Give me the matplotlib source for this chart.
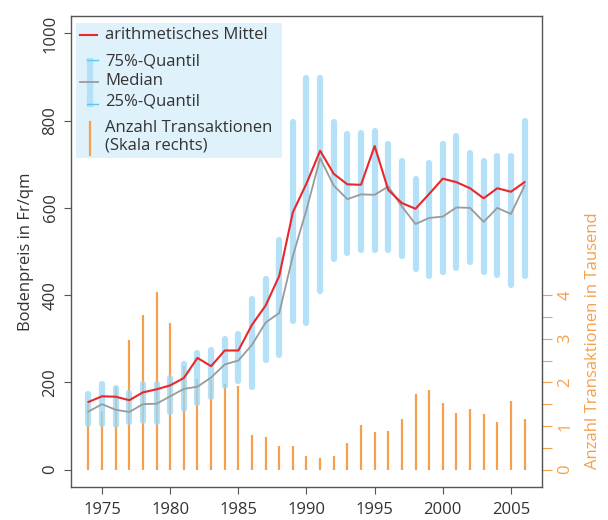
import matplotlib
matplotlib.use("Agg")
import matplotlib.pyplot as plt
from matplotlib.lines import Line2D
from matplotlib.patches import Rectangle
import numpy as np

plt.rcParams['font.family'] = ['Open Sans', 'DejaVu Sans']

years = list(range(1974, 2007))
# Bodenpreis Fr/qm
mittel = [155, 168, 167, 159, 177, 184, 193, 210, 256, 237, 273, 273, 332, 376, 444,
          590, 656, 731, 678, 654, 653, 742, 641, 611, 598, 632, 667, 659, 645, 622,
          645, 637, 659]
median = [133, 150, 137, 132, 150, 151, 168, 185, 190, 211, 241, 250, 286, 337, 359,
          490, 596, 714, 651, 620, 631, 630, 649, 603, 563, 577, 580, 601, 600, 568,
          600, 586, 651]
q75 = [174, 197, 187, 176, 197, 197, 210, 243, 268, 274, 299, 310, 391, 438, 527,
       797, 897, 897, 797, 770, 772, 776, 747, 707, 667, 704, 747, 764, 727, 708,
       718, 720, 799]
q25 = [104, 104, 103, 108, 112, 108, 133, 140, 153, 167, 192, 202, 190, 252, 263,
       341, 336, 410, 483, 496, 503, 503, 503, 489, 461, 443, 452, 463, 477, 452,
       446, 423, 443]
# Anzahl Transaktionen in Tausend
anzahl = [1.5, 1.34, 1.89, 2.96, 3.54, 4.07, 3.35, 2.37, 2.08, 2.05, 1.97, 1.91, 0.80,
          0.75, 0.55, 0.55, 0.32, 0.27, 0.32, 0.61, 1.02, 0.85, 0.88, 1.16, 1.73, 1.82,
          1.52, 1.29, 1.40, 1.28, 1.10, 1.58, 1.15]

c_red = '#e8282b'
c_gray = '#9a9a9a'
c_blue = '#9cd8f6'
c_orange = '#f5a04e'
c_text = '#333333'
c_box = '#555555'

fig = plt.figure(figsize=(6.08, 5.2), dpi=100)
ax = fig.add_axes([71 / 608, 1 - 487 / 520, 471 / 608, 471 / 520])
ax2 = ax.twinx()
ax.set_zorder(ax2.get_zorder() + 1)
ax.patch.set_visible(False)

# orange bars (right scale)
ax2.vlines(years, 0, anzahl, color=c_orange, lw=1.6)

# quartile bars
ax.vlines(years, q25, q75, color=c_blue, lw=4.5, alpha=0.75, capstyle='round')
ax.plot(years, median, color=c_gray, lw=1.3)
ax.plot(years, mittel, color=c_red, lw=1.5)

ax.set_xlim(1972.72, 2007.28)
ax.set_ylim(-40, 1040)
ax2.set_ylim(-0.40, 10.40)

for s in ax.spines.values():
    s.set_color(c_box)
    s.set_linewidth(1.0)

ax.set_xticks(range(1975, 2006, 5))
ax.set_yticks(range(0, 1001, 200))
ax.tick_params(axis='both', colors=c_box, labelcolor=c_text, labelsize=12,
               length=5, width=0.8)
ax.tick_params(axis='x', pad=6)
ax.tick_params(axis='y', labelrotation=90, pad=4)
for lab in ax.get_yticklabels():
    lab.set_va('center')
ax.set_ylabel('Bodenpreis in Fr/qm', fontsize=12, color=c_text, labelpad=6)

for name, s in ax2.spines.items():
    s.set_visible(name == 'right')
ax2.spines['right'].set_color(c_orange)
ax2.spines['right'].set_bounds(0, 4)
ax2.set_yticks(range(0, 5))
ax2.set_yticks(np.arange(0.5, 4, 1.0), minor=True)
ax2.tick_params(axis='y', which='both', colors=c_orange, length=7, width=0.8,
                labelsize=12, labelrotation=90, pad=4)
for lab in ax2.get_yticklabels():
    lab.set_va('center')
ax2.set_ylabel('Anzahl Transaktionen in Tausend', fontsize=12, color=c_orange,
               labelpad=6)
ax2.yaxis.set_label_coords(1.092, 0.31)

# legend drawn in figure pixels
W, H = 608, 520


def fx(x):
    return x / W


def fy(y):
    return 1 - y / H


fig.patches.append(Rectangle((fx(76), fy(158)), (282 - 76) / W, (158 - 23) / H,
                             transform=fig.transFigure, facecolor='#dff1fb',
                             edgecolor='none', zorder=10))


def fline(xs, ys, **kw):
    fig.lines.append(Line2D([fx(v) for v in xs], [fy(v) for v in ys],
                            transform=fig.transFigure, zorder=11, **kw))


fline([80, 97], [35, 35], color=c_red, lw=1.5)
fline([90, 90], [61, 104], color='#b3e1f7', lw=4.5)
fline([87, 98], [60, 60], color='#5cc8ee', lw=1.0)
fline([87, 98], [104, 104], color='#5cc8ee', lw=1.0)
fline([80, 98], [82, 82], color=c_gray, lw=1.3)
fline([90, 90], [122, 155], color=c_orange, lw=1.6)

leg_txt = [('arithmetisches Mittel', 35), ('75%-Quantil', 61), ('Median', 81),
           ('25%-Quantil', 101), ('Anzahl Transaktionen', 128), ('(Skala rechts)', 145)]
for t, yy in leg_txt:
    fig.text(fx(105), fy(yy), t, fontsize=12, color=c_text, va='center', ha='left',
             zorder=12)

fig.savefig('out.png', dpi=100)
